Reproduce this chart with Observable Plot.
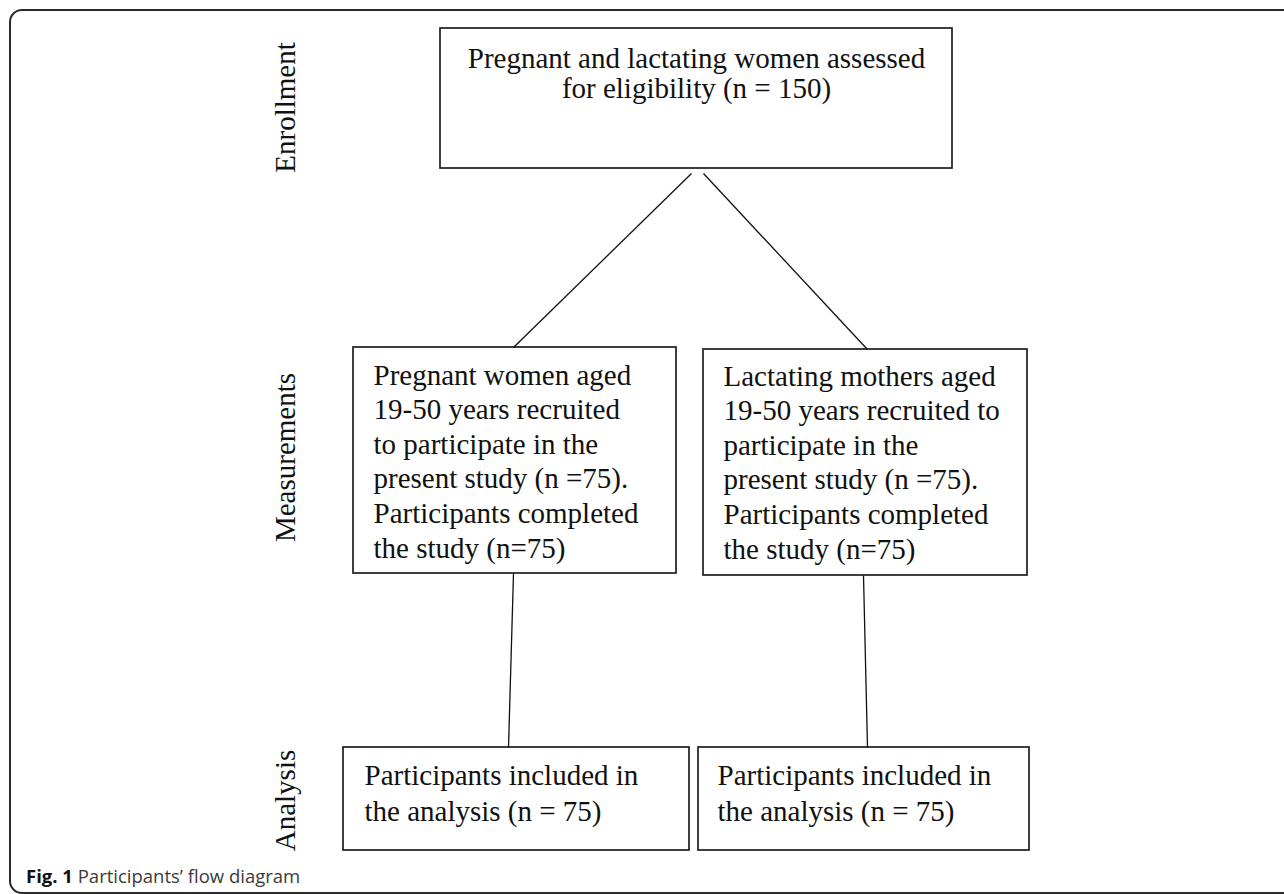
<!DOCTYPE html>
<html>
<head>
<meta charset="utf-8">
<script src="https://cdn.jsdelivr.net/npm/d3@7"></script>
<script src="https://cdn.jsdelivr.net/npm/@observablehq/plot@0.6"></script>
<style>
  html, body { margin: 0; padding: 0; background: #fff; width: 1284px; height: 894px; overflow: hidden; }
  #chart { position: absolute; left: 0; top: 0; }
  #frame { position: absolute; left: 9px; top: 9px; width: 1320px; height: 885px; box-sizing: border-box;
           border: 2px solid #2a2a2a; border-radius: 13px; pointer-events: none; }
  #caption { position: absolute; left: 26px; top: 867px; font-family: "Open Sans", sans-serif; font-size: 18.5px;
             line-height: 1; color: #3a3a3a; white-space: nowrap; }
  #caption b { color: #111; font-weight: 700; }
</style>
</head>
<body>
<div id="chart"></div>
<div id="caption"><b>Fig. 1</b> Participants’ flow diagram</div>
<div id="frame"></div>
<script>
// ---- data (texts and counts) ----
const stages = ["Enrollment", "Measurements", "Analysis"];
const nAssessed = 150;
const nRecruited = [75, 75];
const nCompleted = [75, 75];
const nAnalysed = [75, 75];
const enrollmentText = ["Pregnant and lactating women assessed", `for eligibility (n = ${nAssessed})`];
const measurementText = [
  ["Pregnant women aged", "19-50 years recruited", "to participate in the",
   `present study (n =${nRecruited[0]}).`, "Participants completed", `the study (n=${nCompleted[0]})`],
  ["Lactating mothers aged", "19-50 years recruited to", "participate in the",
   `present study (n =${nRecruited[1]}).`, "Participants completed", `the study (n=${nCompleted[1]})`]
];
const analysisText = nAnalysed.map(n => ["Participants included in", `the analysis (n = ${n})`]);

// ---- layout (pixel positions of the diagram) ----
const W = 1284, H = 858;
const L = {
  top: {x1: 440, x2: 952, y1: 28, y2: 168, tx: 696, ty0: 67, dy: 30, anchor: "middle"},
  mid: [
    {x1: 353, x2: 676, y1: 347, y2: 573, tx: 373, ty0: 384, dy: 34.6, anchor: "start"},
    {x1: 703, x2: 1027, y1: 349, y2: 575, tx: 723, ty0: 385, dy: 34.6, anchor: "start"}
  ],
  bot: [
    {x1: 343, x2: 689, y1: 747, y2: 850, tx: 364, ty0: 784, dy: 36, anchor: "start"},
    {x1: 698, x2: 1029, y1: 747, y2: 850, tx: 717, ty0: 784, dy: 36, anchor: "start"}
  ],
  stageX: 285,
  stageY: [107, 457, 800],
  links: [
    {x1: 691, y1: 173, x2: 513, y2: 347},
    {x1: 703, y1: 173, x2: 867, y2: 349},
    {x1: 513, y1: 573, x2: 508, y2: 747},
    {x1: 863, y1: 575, x2: 867, y2: 747}
  ]
};

const boxes = [
  {...L.top, lines: enrollmentText},
  ...L.mid.map((b, i) => ({...b, lines: measurementText[i]})),
  ...L.bot.map((b, i) => ({...b, lines: analysisText[i]}))
];
const textRows = boxes.flatMap(b => b.lines.map((t, i) => ({text: t, x: b.tx, y: b.ty0 + i * b.dy, anchor: b.anchor})));
const stageRows = stages.map((s, i) => ({text: s, x: L.stageX, y: L.stageY[i]}));

const serif = "'Liberation Serif', 'Times New Roman', Times, serif";

const chart = Plot.plot({
  width: W, height: H,
  margin: 0,
  x: {domain: [0, W], range: [0, W], axis: null},
  y: {domain: [0, H], range: [0, H], axis: null},
  style: {background: "transparent", fontFamily: serif},
  marks: [
    Plot.rect(boxes, {x1: "x1", x2: "x2", y1: "y1", y2: "y2", fill: "white", stroke: "#1e1e1e", strokeWidth: 1.7}),
    Plot.link(L.links, {x1: "x1", y1: "y1", x2: "x2", y2: "y2", stroke: "#111", strokeWidth: 1.3}),
    Plot.text(textRows.filter(d => d.anchor === "middle"), {x: "x", y: "y", text: "text", textAnchor: "middle", lineAnchor: "bottom", fontSize: 29, fill: "#111", fontFamily: serif}),
    Plot.text(textRows.filter(d => d.anchor === "start"), {x: "x", y: "y", text: "text", textAnchor: "start", lineAnchor: "bottom", fontSize: 29, fill: "#111", fontFamily: serif}),
    Plot.text(stageRows, {x: "x", y: "y", text: "text", rotate: -90, textAnchor: "middle", lineAnchor: "middle", fontSize: 29, fill: "#111", fontFamily: serif})
  ]
});
document.getElementById("chart").appendChild(chart);
</script>
</body>
</html>
